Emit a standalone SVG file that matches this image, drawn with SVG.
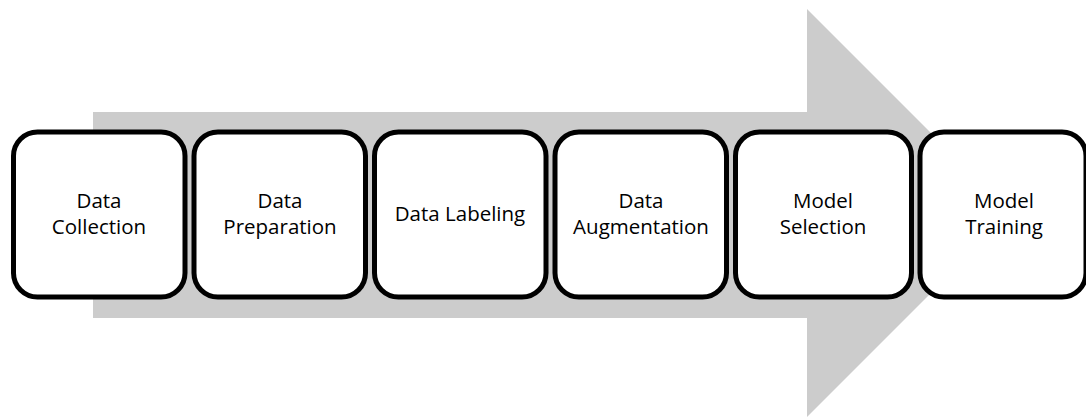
<svg xmlns="http://www.w3.org/2000/svg" width="1086" height="417" viewBox="0 0 1086 417">
  <style>
    .step rect { fill: #ffffff; stroke: #000000; stroke-width: 5; }
    .step text { font-family: "Open Sans", "Liberation Sans", sans-serif; font-size: 20.5px; fill: #000000; text-anchor: middle; }
  </style>
  <rect width="1086" height="417" fill="#ffffff"/>
  <!-- big background arrow -->
  <g id="connectors">
    <polygon points="93,112 807,112 807,9 1011,213 807,417 807,318 93,318" fill="#cccccc"/>
  </g>
  <g id="step1" class="step">
    <rect x="13.5" y="132" width="171.5" height="165" rx="24"/>
    <text x="99" y="208">Data</text>
    <text x="99" y="234">Collection</text>
  </g>
  <g id="step2" class="step">
    <rect x="194" y="132" width="171.5" height="165" rx="24"/>
    <text x="280" y="208">Data</text>
    <text x="280" y="234">Preparation</text>
  </g>
  <g id="step3" class="step">
    <rect x="374.5" y="132" width="171.5" height="165" rx="24"/>
    <text x="460" y="221">Data Labeling</text>
  </g>
  <g id="step4" class="step">
    <rect x="555" y="132" width="171.5" height="165" rx="24"/>
    <text x="641" y="208">Data</text>
    <text x="641" y="234">Augmentation</text>
  </g>
  <g id="step5" class="step">
    <rect x="735.5" y="132" width="176" height="165" rx="24"/>
    <text x="823" y="208">Model</text>
    <text x="823" y="234">Selection</text>
  </g>
  <g id="step6" class="step">
    <rect x="920" y="132" width="166" height="165" rx="24"/>
    <text x="1004" y="208">Model</text>
    <text x="1004" y="234">Training</text>
  </g>
</svg>
